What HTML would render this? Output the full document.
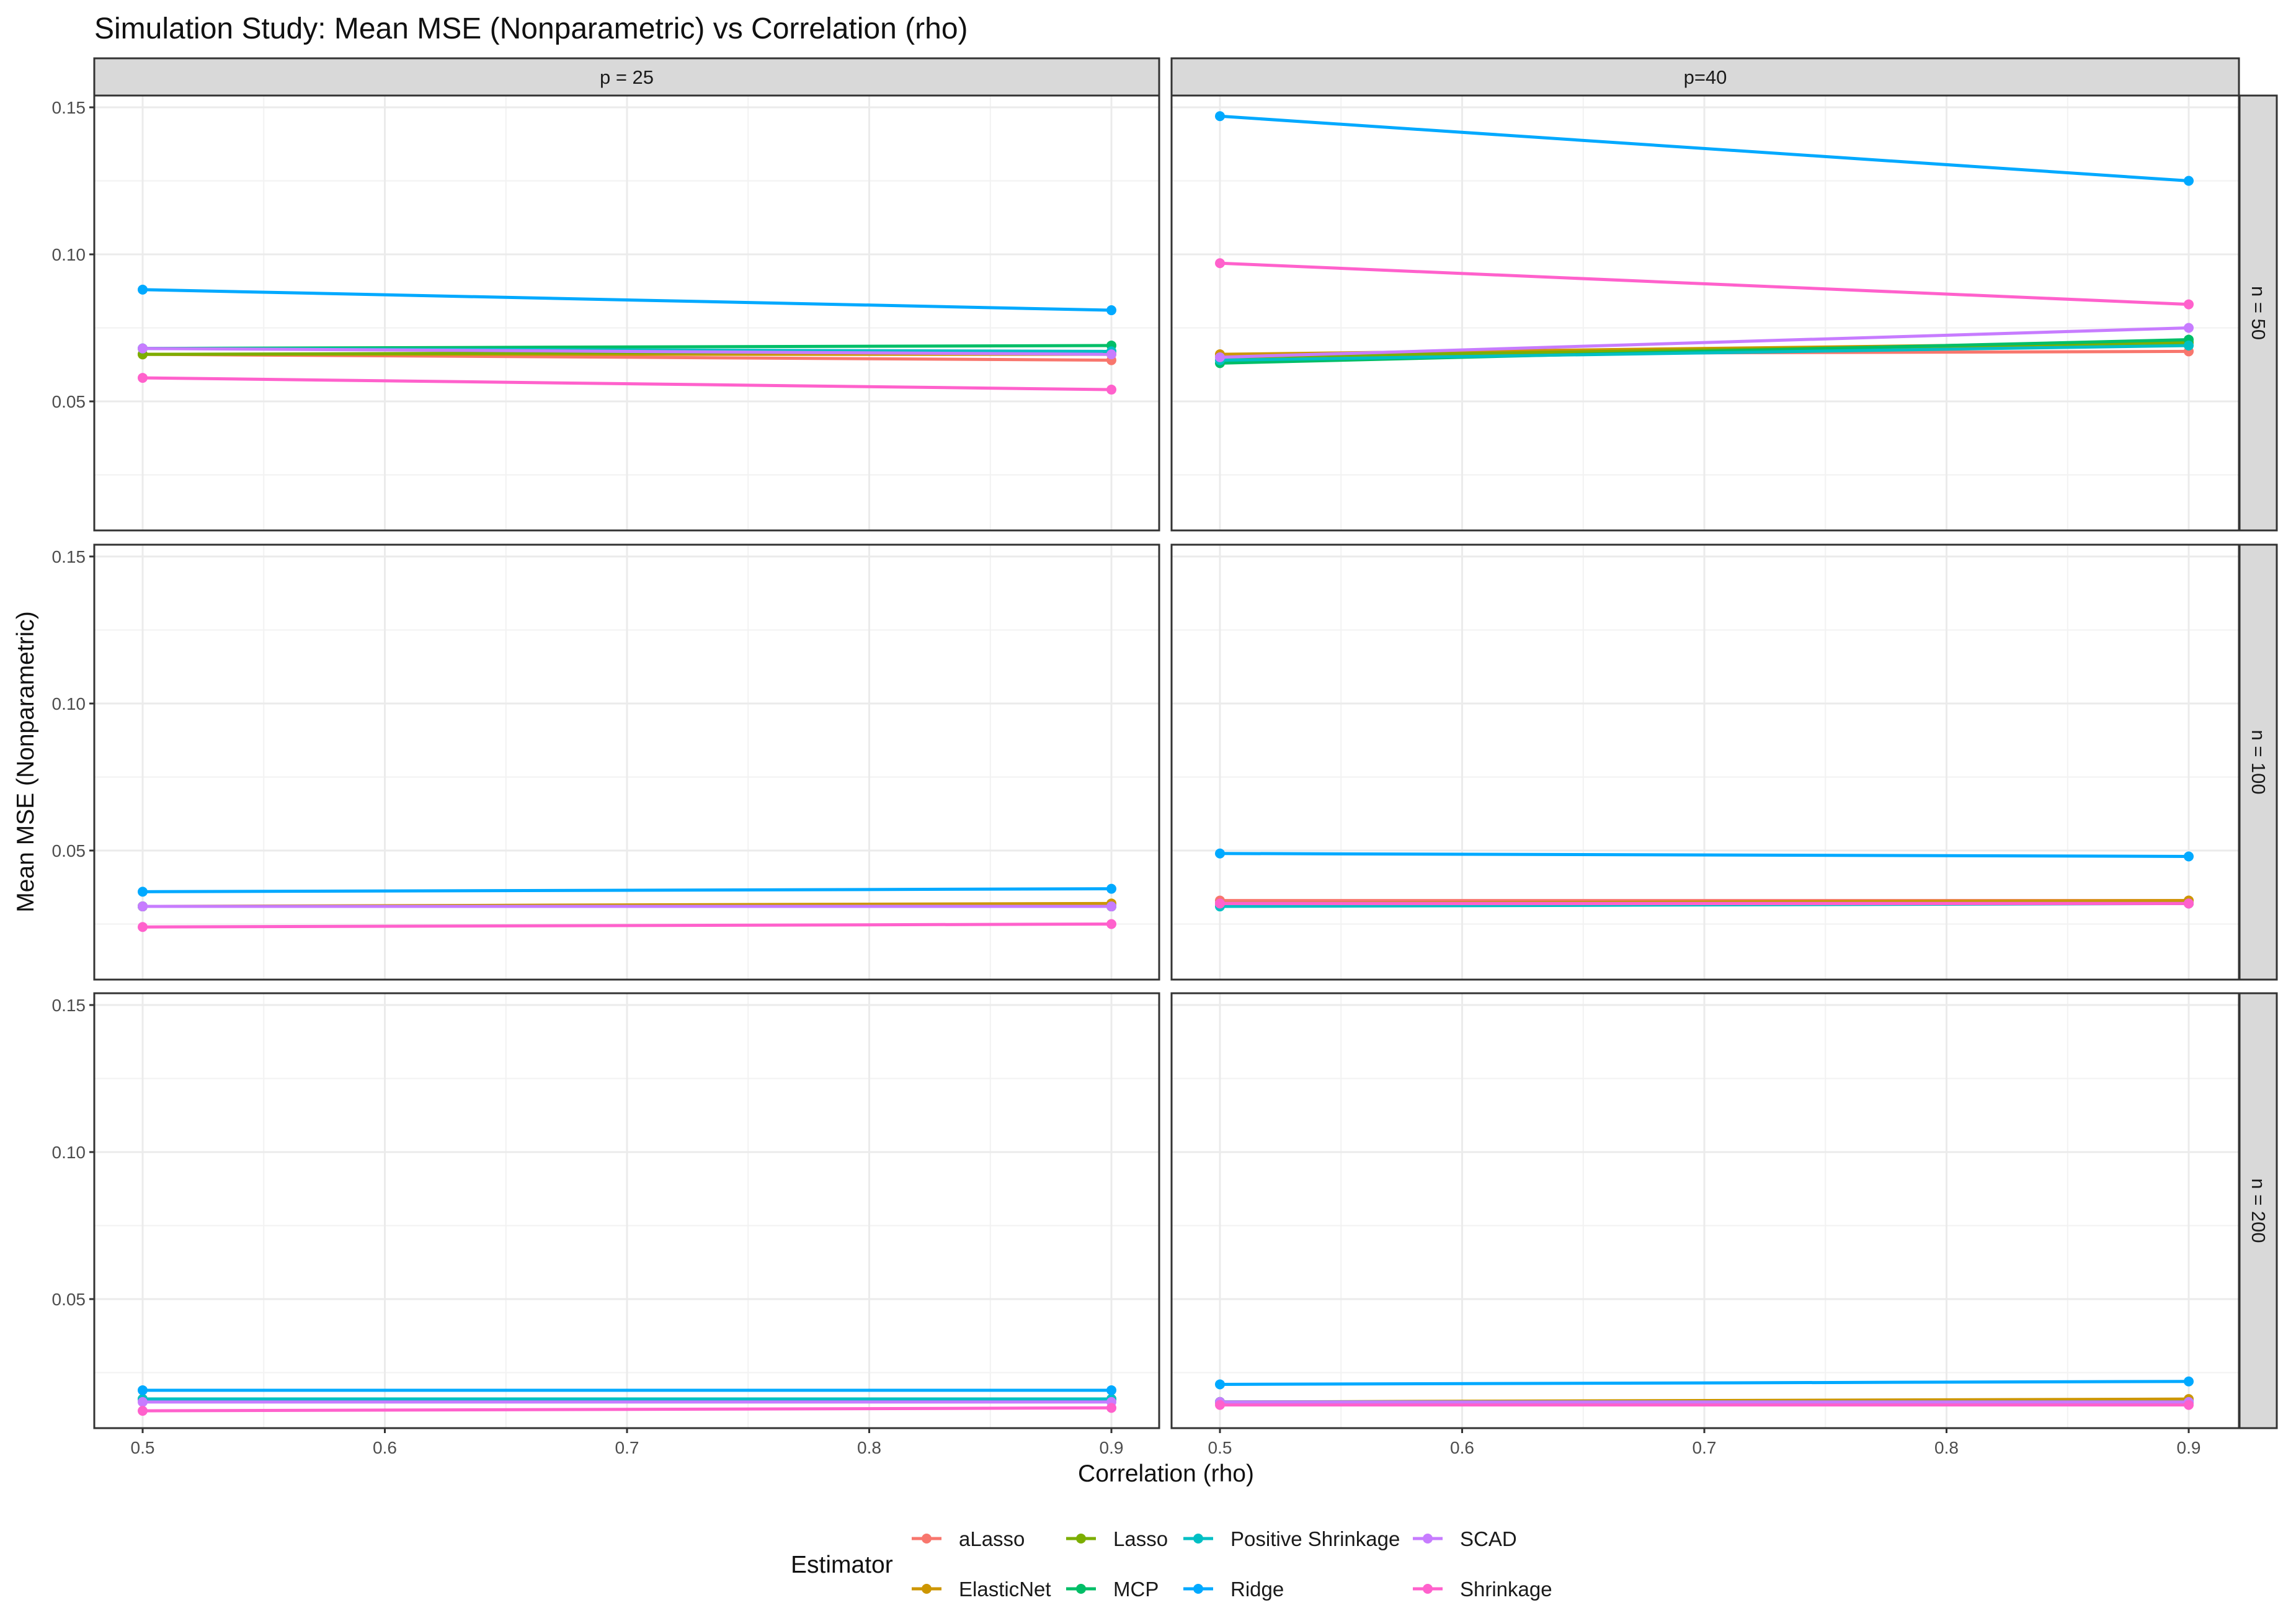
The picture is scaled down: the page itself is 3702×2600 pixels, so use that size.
<!DOCTYPE html>
<html><head><meta charset="utf-8"><style>
html,body{margin:0;padding:0;background:#fff;}
svg{display:block;font-family:"Liberation Sans",Arial,sans-serif;}
</style></head><body>
<svg id="chart" width="3702" height="2600" viewBox="0 0 3702 2600" xmlns="http://www.w3.org/2000/svg">
<text x="152" y="62" font-size="48" fill="#111">Simulation Study: Mean MSE (Nonparametric) vs Correlation (rho)</text>
<text x="1880" y="2388" font-size="39" fill="#111" text-anchor="middle">Correlation (rho)</text>
<text transform="translate(54,1228) rotate(-90)" font-size="39" fill="#111" text-anchor="middle">Mean MSE (Nonparametric)</text>
<g id="panels"></g>
<g id="legend"></g>
</svg>
<script>
const estimators = ["aLasso","ElasticNet","Lasso","MCP","Positive Shrinkage","Ridge","SCAD","Shrinkage"];
const colors = ["#F8766D","#CD9600","#7CAE00","#00BE67","#00BFC4","#00A9FF","#C77CFF","#FF61CC"];
const rhoValues = [0.5, 0.9];
const colFacets = ["p = 25","p=40"];
const rowFacets = ["n = 50","n = 100","n = 200"];
const yTicks = [0.05, 0.10, 0.15];
const yTickLabels = ["0.05","0.10","0.15"];
const xTicks = [0.5, 0.6, 0.7, 0.8, 0.9];
const xTickLabels = ["0.5","0.6","0.7","0.8","0.9"];
// values[row][col][estimator] = [at rho 0.5, at rho 0.9]
const n50p25 = [[0.066,0.064],[0.066,0.066],[0.066,0.067],[0.068,0.069],[0.068,0.067],[0.088,0.081],[0.068,0.066],[0.058,0.054]];
const n50p40 = [[0.066,0.067],[0.066,0.070],[0.065,0.070],[0.063,0.071],[0.064,0.069],[0.147,0.125],[0.065,0.075],[0.097,0.083]];
const n100p25 = [[0.031,0.031],[0.031,0.032],[0.031,0.031],[0.031,0.031],[0.031,0.031],[0.036,0.037],[0.031,0.031],[0.024,0.025]];
const n100p40 = [[0.033,0.033],[0.032,0.033],[0.032,0.032],[0.032,0.032],[0.031,0.032],[0.049,0.048],[0.032,0.032],[0.032,0.032]];
const n200p25 = [[0.016,0.016],[0.016,0.016],[0.016,0.016],[0.016,0.016],[0.016,0.016],[0.019,0.019],[0.015,0.015],[0.012,0.013]];
const n200p40 = [[0.015,0.015],[0.015,0.016],[0.015,0.015],[0.015,0.015],[0.015,0.015],[0.021,0.022],[0.015,0.015],[0.014,0.014]];
const values = [[n50p25,n50p40],[n100p25,n100p40],[n200p25,n200p40]];

const NS="http://www.w3.org/2000/svg";
const panelLeft=[152,1889], panelW=[1717,1721];
const panelTop=[154,878,1601], panelH=701;
function mk(tag,attrs,parent){const e=document.createElementNS(NS,tag);for(const k in attrs)e.setAttribute(k,attrs[k]);parent.appendChild(e);return e;}
function xs(c,v){return panelLeft[c]+78+(v-0.5)*3905;}
function ys(r,v){return panelTop[r]+19+(0.15-v)*4740;}
const root=document.getElementById('panels');
for(let c=0;c<2;c++){
  const st=mk('rect',{x:panelLeft[c],y:94,width:panelW[c],height:60,fill:'#d9d9d9',stroke:'#333','stroke-width':3},root);
  
  
  const stt=mk('text',{x:panelLeft[c]+panelW[c]/2,y:135,'font-size':31,'text-anchor':'middle',fill:'#1a1a1a'},root);
  stt.textContent=colFacets[c];
  
  
}
for(let r=0;r<3;r++){
  const rs=mk('rect',{x:3611,y:panelTop[r],width:60,height:panelH,fill:'#d9d9d9',stroke:'#333','stroke-width':3},root);
  
  
  const rt=mk('text',{transform:`translate(3631,${panelTop[r]+panelH/2}) rotate(90)`,'font-size':31,'text-anchor':'middle',fill:'#1a1a1a'},root);
  rt.textContent=rowFacets[r];
  
  
  for(let c=0;c<2;c++){
    const g=mk('g',{},root);
    
    
    const L=panelLeft[c],T=panelTop[r],W=panelW[c];
    mk('rect',{x:L,y:T,width:W,height:panelH,fill:'#fff'},g);
    [0.025,0.075,0.125].forEach(v=>mk('line',{x1:L,x2:L+W,y1:ys(r,v),y2:ys(r,v),stroke:'#f2f2f2','stroke-width':2},g));
    [0.55,0.65,0.75,0.85].forEach(v=>mk('line',{x1:xs(c,v),x2:xs(c,v),y1:T,y2:T+panelH,stroke:'#f2f2f2','stroke-width':2},g));
    yTicks.forEach(v=>mk('line',{x1:L,x2:L+W,y1:ys(r,v),y2:ys(r,v),stroke:'#ebebeb','stroke-width':3},g));
    xTicks.forEach(v=>mk('line',{x1:xs(c,v),x2:xs(c,v),y1:T,y2:T+panelH,stroke:'#ebebeb','stroke-width':3},g));
    const data=values[r][c];
    data.forEach((s,i)=>{
      const ln=mk('line',{x1:xs(c,rhoValues[0]),y1:ys(r,s[0]),x2:xs(c,rhoValues[1]),y2:ys(r,s[1]),stroke:colors[i],'stroke-width':5},g);
      
      
      s.forEach((v,j)=>{
        const p=mk('circle',{cx:xs(c,rhoValues[j]),cy:ys(r,v),r:8,fill:colors[i]},g);
        
        
      });
    });
    mk('rect',{x:L,y:T,width:W,height:panelH,fill:'none',stroke:'#333','stroke-width':3},g);
    if(c===0){
      yTicks.forEach((v,k)=>{
        mk('line',{x1:L-8,x2:L,y1:ys(r,v),y2:ys(r,v),stroke:'#333','stroke-width':3},g);
        const t=mk('text',{x:L-14,y:ys(r,v)+10,'font-size':28,'text-anchor':'end',fill:'#4d4d4d'},g);
        t.textContent=yTickLabels[k];
        
        
      });
    }
    if(r===2){
      xTicks.forEach((v,k)=>{
        mk('line',{x1:xs(c,v),x2:xs(c,v),y1:T+panelH,y2:T+panelH+8,stroke:'#333','stroke-width':3},g);
        const t=mk('text',{x:xs(c,v),y:2343,'font-size':28,'text-anchor':'middle',fill:'#4d4d4d'},g);
        t.textContent=xTickLabels[k];
        
        
      });
    }
  }
}
const lg=document.getElementById('legend');
const et=mk('text',{x:1275,y:2535,'font-size':39,fill:'#111'},lg);
et.textContent='Estimator';


const keyX=[1494,1494,1743,1743,1932,1932,2302,2302];
const rowY=[2480,2561];
estimators.forEach((n,i)=>{
  const kx=keyX[i], ky=rowY[i%2];
  const g=mk('g',{},lg);
  
  
  mk('line',{x1:kx-24,x2:kx+24,y1:ky,y2:ky,stroke:colors[i],'stroke-width':5},g);
  mk('circle',{cx:kx,cy:ky,r:8,fill:colors[i]},g);
  const t=mk('text',{x:kx+52,y:ky+12,'font-size':33,fill:'#1a1a1a'},g);
  t.textContent=n;
});
</script>
</body></html>
